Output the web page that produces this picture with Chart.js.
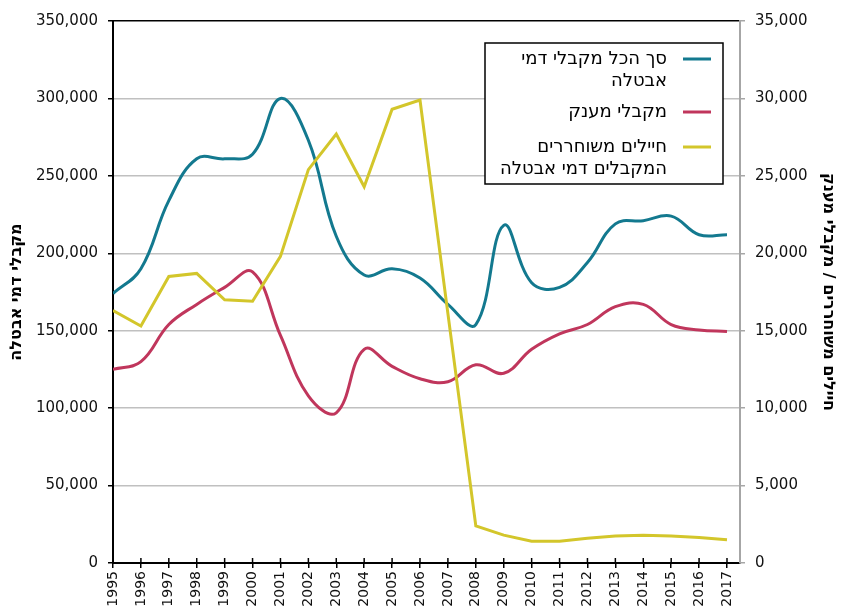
<!DOCTYPE html>
<html>
<head>
<meta charset="utf-8">
<script src="https://cdn.jsdelivr.net/npm/chart.js@4"></script>
<style>
  body { margin: 0; background: #fff; }
</style>
</head>
<body>
<canvas id="chart" width="842" height="610"></canvas>
<script>
const years = [1995, 1996, 1997, 1998, 1999, 2000, 2001, 2002, 2003, 2004, 2005, 2006,
               2007, 2008, 2009, 2010, 2011, 2012, 2013, 2014, 2015, 2016, 2017];

// left axis
const totalRecipients = [174000, 190000, 234000, 261000, 261000, 264000, 300000, 273000, 211000, 186000, 190000, 184000,
                         167000, 154000, 218000, 181000, 178000, 194000, 219000, 221000, 224000, 212000, 212000];
const grantRecipients = [125000, 130000, 154000, 167000, 178000, 188000, 147000, 108000, 97000, 138000, 127000, 119000,
                         117000, 128000, 122500, 138000, 148000, 154000, 165500, 167000, 154000, 150500, 149500];
// right axis
const soldiers = [16300, 15300, 18500, 18700, 17000, 16900, 19800, 25400, 27700, 24300, 29300, 29900,
                  16100, 2400, 1800, 1400, 1400, 1600, 1750, 1800, 1750, 1650, 1500];

const seriesNames = [
    ['סך הכל מקבלי דמי', 'אבטלה'],
    ['מקבלי מענק'],
    ['חיילים משוחררים', 'המקבלים דמי אבטלה']
];
const seriesColors = ['#13798f', '#c0365c', '#d3c62b'];

const leftTitle = 'מקבלי דמי אבטלה';
const rightTitle = 'חיילים משוחררים / מקבלי מענק';

const pts = vals => vals.map((v, i) => ({ x: years[i], y: v }));

// legend box + inner half of the x ticks
const extras = {
    id: 'extras',
    afterDraw(chart) {
        const { ctx, chartArea: a } = chart;
        const x = chart.scales.x;
        ctx.save();
        ctx.strokeStyle = '#000';
        ctx.lineWidth = 1.5;
        years.forEach(yr => {
            const px = x.getPixelForValue(yr);
            ctx.beginPath();
            ctx.moveTo(px, a.bottom);
            ctx.lineTo(px, a.bottom - 5);
            ctx.stroke();
        });

        // legend
        const bx = 485, by = 43, bw = 238, bh = 141;
        ctx.fillStyle = '#fff';
        ctx.fillRect(bx, by, bw, bh);
        ctx.strokeStyle = '#000';
        ctx.lineWidth = 1.5;
        ctx.strokeRect(bx, by, bw, bh);

        const rows = [59, 112, 147];
        ctx.font = '18px "DejaVu Sans", sans-serif';
        ctx.textBaseline = 'middle';
        ctx.textAlign = 'right';
        chart.data.datasets.forEach((ds, i) => {
            const y0 = rows[i];
            ctx.strokeStyle = ds.borderColor;
            ctx.lineWidth = 3;
            ctx.beginPath();
            ctx.moveTo(683, y0);
            ctx.lineTo(711, y0);
            ctx.stroke();
            ctx.fillStyle = '#000';
            seriesNames[i].forEach((line, j) => ctx.fillText(line, 667, y0 + j * 22));
        });
        ctx.restore();
    }
};

const tickFont = { family: '"DejaVu Sans", sans-serif', size: 15 };
const titleFont = { family: '"DejaVu Sans", sans-serif', size: 16, weight: 'bold' };

new Chart(document.getElementById('chart'), {
    type: 'line',
    data: {
        datasets: [
            { label: seriesNames[0].join(' '), data: pts(totalRecipients), yAxisID: 'y',
              borderColor: seriesColors[0], borderWidth: 3, pointRadius: 0, tension: 0.4, order: 2 },
            { label: seriesNames[1].join(' '), data: pts(grantRecipients), yAxisID: 'y',
              borderColor: seriesColors[1], borderWidth: 3, pointRadius: 0, tension: 0.4, order: 1 },
            { label: seriesNames[2].join(' '), data: pts(soldiers), yAxisID: 'y1',
              borderColor: seriesColors[2], borderWidth: 3, pointRadius: 0, tension: 0, order: 0 }
        ]
    },
    options: {
        responsive: false,
        animation: false,
        locale: 'en-US',
        layout: { padding: { top: 21, left: 0, right: 0, bottom: 0 } },
        plugins: { legend: { display: false }, tooltip: { enabled: false } },
        scales: {
            x: {
                type: 'linear',
                min: 1995,
                max: 2017.466,
                afterFit: s => { s.height = 47; },
                ticks: {
                    stepSize: 1, includeBounds: false, autoSkip: false,
                    maxRotation: 90, minRotation: 90, padding: 3,
                    font: { family: '"DejaVu Sans", sans-serif', size: 14 }, color: '#111',
                    callback: v => String(v)
                },
                grid: { drawOnChartArea: false, tickLength: 5, color: '#000', lineWidth: 1.5 },
                border: { color: '#000', width: 2 }
            },
            y: {
                position: 'left',
                min: 0, max: 350000,
                afterFit: s => { s.width = 113; },
                ticks: { stepSize: 50000, padding: 10, font: tickFont, color: '#111' },
                grid: {
                    color: c => (c.tick && c.tick.value === 350000) ? '#000' : '#c0c0c0',
                    lineWidth: 1.5, tickColor: '#000', tickLength: 5
                },
                border: { color: '#000', width: 2 },
                title: { display: true, text: leftTitle, font: titleFont, color: '#000', padding: { top: 7, bottom: 0 } }
            },
            y1: {
                position: 'right',
                min: 0, max: 35000,
                afterFit: s => { s.width = 102; },
                ticks: { stepSize: 5000, padding: 10, font: tickFont, color: '#111' },
                grid: { drawOnChartArea: false, color: '#a6a6a6', lineWidth: 1.5, tickLength: 5 },
                border: { color: '#a6a6a6', width: 2 },
                title: { display: true, text: rightTitle, font: titleFont, color: '#000', padding: { top: 4, bottom: 0 } }
            }
        }
    },
    plugins: [extras]
});
</script>
</body>
</html>
